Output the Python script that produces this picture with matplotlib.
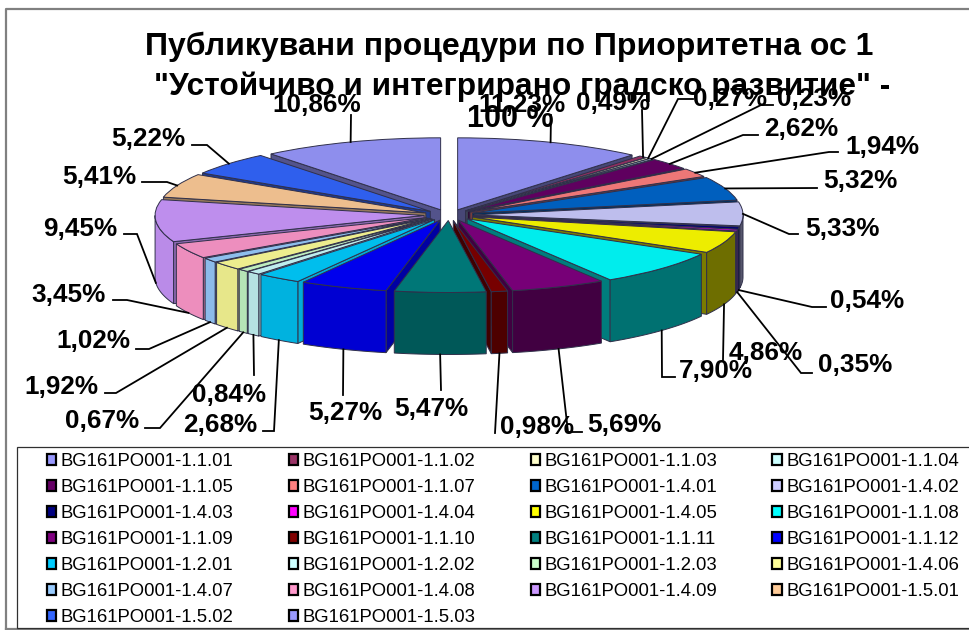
import numpy as np
import matplotlib
matplotlib.use("Agg")
import matplotlib.pyplot as plt
from matplotlib.patches import Wedge, Polygon, Rectangle, Patch
from matplotlib.transforms import Affine2D

plt.rcParams['font.family'] = ['Liberation Sans', 'DejaVu Sans']

# ---------- data ----------
codes = ["1.1.01","1.1.02","1.1.03","1.1.04","1.1.05","1.1.07","1.4.01","1.4.02","1.4.03",
         "1.4.04","1.4.05","1.1.08","1.1.09","1.1.10","1.1.11","1.1.12","1.2.01","1.2.02",
         "1.2.03","1.4.06","1.4.07","1.4.08","1.4.09","1.5.01","1.5.02","1.5.03"]
shares = [11.23,0.49,0.27,0.23,2.62,1.94,5.32,5.33,0.54,0.35,4.86,7.90,5.69,0.98,5.47,5.27,
          2.68,0.84,0.67,1.92,1.02,3.45,9.45,5.41,5.22,10.86]
colors = ["#9999FF","#993366","#FFFFCC","#CCFFFF","#660066","#FF8080","#0066CC","#CCCCFF",
          "#000080","#FF00FF","#FFFF00","#00FFFF","#800080","#800000","#008080","#0000FF",
          "#00CCFF","#CCFFFF","#CCFFCC","#FFFF99","#99CCFF","#FF99CC","#CC99FF","#FFCC99",
          "#3366FF","#9999FF"]
title_lines = ["Публикувани процедури по Приоритетна ос 1",
               "\"Устойчиво и интегрирано градско развитие\" -",
               "100 %"]

# ---------- layout of labels (pixel positions) ----------
label_pos = [(522,103),(613,101),(730,98),(814,98),(801,127),(882,145),(860,180),(842,227),
             (867,299),(855,364),(766,351),(716,370),(624,424),(537,425),(431,407),(345,412),
             (220,424),(229,393),(102,420),(61,385),(93,340),(69,293),(80,227),(99,175),
             (148,138),(317,103)]
leader_knees = [[(551,115)],[(642,110)],[(678,99),(693,99)],[(761,105),(773,105)],
                [(743,135),(758,135)],[(829,152),(838,152)],[(817,188)],[(789,234),(798,234)],
                [(812,307),(826,307)],[(801,373),(812,373)],[(723,360)],[(662,377),(675,377)],
                [(568,432),(582,432)],[(495,433)],[(441,390)],[(343,395)],
                [(274,431),(263,431)],[(254,375)],[(160,428),(145,428)],[(116,393),(105,393)],
                [(149,349),(136,349)],[(127,300),(113,300)],[(137,234),(124,234)],
                [(167,182),(142,182)],[(207,145),(192,145)],[(351,115)]]

CX, CY, RX, RY, EX, EY, DEPTH = 449, 215, 269, 72, 25, 5.5, 62

fig = plt.figure(figsize=(9.7, 6.3), dpi=100, facecolor="white")
ax = fig.add_axes([0, 0, 1, 1])
ax.set_xlim(0, 970)
ax.set_ylim(630, 0)
ax.axis("off")


def shade(hex_color, k):
    return tuple(np.array(matplotlib.colors.to_rgb(hex_color)) * k)


def wall_k(a):
    return np.interp(a, [90, 150, 170, 190, 205, 240, 270], [.42, .45, .6, .75, .85, .93, .9])


def radial_k(a):
    return np.interp(a, [0, 180, 210, 270, 360], [.45, .5, .85, .6, .5])


EDGE = "#30304a"
total = sum(shares)
edges = np.concatenate([[0], np.cumsum(shares)]) / total * 360
mids = (edges[:-1] + edges[1:]) / 2


def outer(i, a, r=1.0):
    """Pixel point on slice i's rim at clockwise angle a (deg from 12 o'clock)."""
    t = np.radians(a)
    m = np.radians(mids[i])
    return (CX + EX * np.sin(m) + r * RX * np.sin(t),
            CY - EY * np.cos(m) - r * RY * np.cos(t))


order = np.argsort(-np.cos(np.radians(mids)))
for z, i in enumerate(order):
    a0, a1 = edges[i], edges[i + 1]
    base = 2 + z * 0.01
    apex = outer(i, a0, 0)
    # radial faces
    for a, visible in ((a1, 0 < a1 < 180), (a0, 180 < a0 < 360)):
        if visible:
            p = outer(i, a)
            ax.add_patch(Polygon([apex, p, (p[0], p[1] + DEPTH), (apex[0], apex[1] + DEPTH)],
                                 closed=True, fc=shade(colors[i], radial_k(a)), ec=EDGE, lw=.7,
                                 zorder=base))
    # rim wall, only the part facing the viewer
    lo, hi = max(a0, 90), min(a1, 270)
    if hi > lo:
        aa = np.linspace(lo, hi, 40)
        top = [outer(i, a) for a in aa]
        bot = [(x, y + DEPTH) for x, y in reversed(top)]
        ax.add_patch(Polygon(top + bot, closed=True,
                             fc=shade(colors[i], wall_k((lo + hi) / 2)), ec=EDGE, lw=.7,
                             zorder=base + .002))
    # top face
    tr = Affine2D().scale(RX, -RY).translate(*apex) + ax.transData
    ax.add_patch(Wedge((0, 0), 1, 90 - a1, 90 - a0, fc=shade(colors[i], .93), ec=EDGE, lw=.7,
                       transform=tr, zorder=base + .004))

# leaders and labels
for i, (pos, knees) in enumerate(zip(label_pos, leader_knees)):
    m = mids[i]
    sx, sy = outer(i, m)
    if 90 < m < 270:
        sy += DEPTH
    xs = [sx] + [k[0] for k in knees]
    ys = [sy] + [k[1] for k in knees]
    ax.plot(xs, ys, color="black", lw=1.3, zorder=5, solid_joinstyle="miter")
    ax.text(pos[0], pos[1] + 1.5, f"{shares[i]:.2f}%".replace(".", ","), ha="center", va="center",
            fontsize=18.8, fontweight="bold", color="black", zorder=6)

# title
for line, y, x, fs in zip(title_lines, (47, 87, 119), (509, 522, 510), (23, 22.8, 22)):
    ax.text(x, y, line, ha="center", va="center", fontsize=fs, fontweight="bold",
            color="black", zorder=7)

# frames
ax.plot([6, 6, 970], [630, 9, 9], color="#808080", lw=1.6, zorder=1, clip_on=False)
ax.plot([6, 970], [629, 629], color="#808080", lw=1.6, zorder=1)
ax.add_patch(Rectangle((17, 447), 960, 181, fc="white", ec="#303030", lw=.9, zorder=1.5))

# legend (matplotlib fills column by column)
handles = [Patch(fc=c, ec="black", lw=1.6) for c in colors]
labels = [f"BG161PO001-{c}" for c in codes]
col_order = [i for col in range(4) for i in range(col, len(codes), 4)]
ax.legend([handles[i] for i in col_order], [labels[i] for i in col_order],
          ncol=4, loc="upper left", bbox_to_anchor=(47, 453), bbox_transform=ax.transData,
          frameon=False, fontsize=13.3, handlelength=0.5, handleheight=0.5,
          handletextpad=0.25, columnspacing=2.98, labelspacing=0.49, borderpad=0,
          borderaxespad=0).set_zorder(8)

fig.savefig("out.png", dpi=100)
